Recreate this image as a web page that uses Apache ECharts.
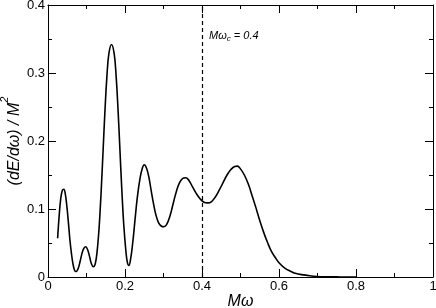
<!DOCTYPE html>
<html>
<head>
<meta charset="utf-8">
<script src="https://cdn.jsdelivr.net/npm/echarts@6/dist/echarts.min.js"></script>
<style>html,body{margin:0;padding:0;background:#fff}#c{width:436px;height:308px}</style>
</head>
<body>
<div id="c"></div>
<script>
// Mω values
var xValues = [0.025,0.029,0.033,0.037,0.041,0.045,0.049,0.053,0.057,0.061,0.065,0.069,0.073,0.078,0.083,0.088,0.093,0.098,0.103,0.108,0.113,0.118,
0.123,0.128,0.133,0.138,0.143,0.148,0.153,0.158,0.165,0.172,0.177,0.182,0.187,0.192,0.197,0.202,0.206,0.210,
0.215,0.220,0.226,0.232,0.239,0.245,0.250,0.256,0.262,0.268,0.274,0.280,0.287,0.294,0.301,0.308,0.317,0.326,0.334,0.342,0.350,0.358,0.366,0.375,0.385,0.395,0.405,0.415,
0.425,0.435,0.445,0.455,0.465,0.475,0.485,0.492,0.500,0.510,0.520,0.530,0.540,0.550,0.560,0.570,0.580,0.590,0.600,0.615,0.630,0.645,0.660,0.680,0.700,0.720,0.740,0.760,0.800];
// (dE/dω)/M² values
var yValues = [0.057,0.090,0.115,0.127,0.129,0.122,0.104,0.080,0.054,0.034,0.019,0.010,0.008,0.012,0.022,0.034,0.042,0.0445,0.040,0.030,0.019,0.015,
0.020,0.040,0.075,0.125,0.185,0.245,0.295,0.328,0.342,0.328,0.295,0.245,0.185,0.125,0.075,0.040,0.022,0.017,
0.028,0.050,0.084,0.117,0.145,0.160,0.165,0.160,0.147,0.127,0.108,0.092,0.080,0.075,0.074,0.077,0.090,0.110,0.127,0.139,0.145,0.146,0.142,0.133,0.123,0.115,0.110,0.109,
0.111,0.118,0.128,0.139,0.150,0.158,0.1625,0.163,0.159,0.150,0.137,0.120,0.102,0.083,0.066,0.051,0.038,0.029,0.021,0.013,0.0085,0.005,0.0035,0.0018,0.0008,0.0004,0.0002,0.0001,0.0];
var cutoff = 0.4;
var xTickInterval = 0.2;
var yTickInterval = 0.1;

var FONT = 'Liberation Sans';
var pts = xValues.map(function(x,i){return [x, yValues[i]];});

function xAx(pos, show){
  return {type:'value', position:pos, min:0, max:1, interval:xTickInterval, splitNumber:5,
    axisLine:{show:true, onZero:false, lineStyle:{color:'#000', width:1}},
    axisTick:{show:true, inside:true, length:8, lineStyle:{color:'#000', width:1}},
    minorTick:{show:true, splitNumber:2, length:4, lineStyle:{color:'#000', width:1}},
    splitLine:{show:false}, minorSplitLine:{show:false},
    axisLabel:{show:show, color:'#000', fontSize:13, fontFamily:FONT, margin:3},
    name: show ? 'Mω' : '', nameLocation:'middle', nameGap:17, nameMoveOverlap:false,
    nameTextStyle:{color:'#000', fontSize:16, fontStyle:'italic', fontFamily:FONT}
  };
}
function yAx(pos, show){
  return {type:'value', position:pos, min:0, max:0.4, interval:yTickInterval,
    axisLine:{show:true, onZero:false, lineStyle:{color:'#000', width:1}},
    axisTick:{show:true, inside:true, length:8, lineStyle:{color:'#000', width:1}},
    minorTick:{show:true, splitNumber:2, length:4, lineStyle:{color:'#000', width:1}},
    splitLine:{show:false}, minorSplitLine:{show:false},
    axisLabel:{show:show, color:'#000', fontSize:13, fontFamily:FONT, margin:3},
    name: show ? '{a|(dE/dω) / M}{s|2}' : '', nameLocation:'middle', nameGap:25, nameRotate:90, nameMoveOverlap:false,
    nameTextStyle:{color:'#000', fontSize:16, fontStyle:'italic', fontFamily:FONT,
      rich:{a:{fontSize:16, fontStyle:'italic', fontFamily:FONT, color:'#000', verticalAlign:'bottom', lineHeight:18},
            s:{fontSize:11, fontStyle:'italic', fontFamily:FONT, color:'#000', verticalAlign:'top', lineHeight:24}}}
  };
}

var chart = echarts.init(document.getElementById('c'), null, {renderer:'canvas'});
chart.setOption({
  animation:false,
  backgroundColor:'#fff',
  grid:{left:48, right:3, top:5, bottom:31, containLabel:false, outerBoundsMode:'none'},
  xAxis:[xAx('bottom', true), xAx('top', false)],
  yAxis:[yAx('left', true), yAx('right', false)],
  series:[{
    type:'line', data:pts, xAxisIndex:0, yAxisIndex:0,
    smooth:0.4, showSymbol:false, symbol:'none',
    lineStyle:{color:'#000', width:1.6},
    markLine:{silent:true, symbol:'none', label:{show:false},
      lineStyle:{color:'#000', type:[4,3], width:1.2},
      data:[{xAxis:cutoff}]}
  }],
  graphic:[{
    type:'text', left:209, top:27,
    style:{
      text:'{m|Mω}{c|c}{m| = 0.4}',
      rich:{
        m:{fontSize:11, fontStyle:'italic', fontFamily:FONT, fill:'#000', verticalAlign:'top', lineHeight:13},
        c:{fontSize:8, fontStyle:'italic', fontFamily:FONT, fill:'#000', verticalAlign:'bottom', lineHeight:9, padding:[8,0,0,0]}
      }
    }
  }]
});
</script>
</body>
</html>
